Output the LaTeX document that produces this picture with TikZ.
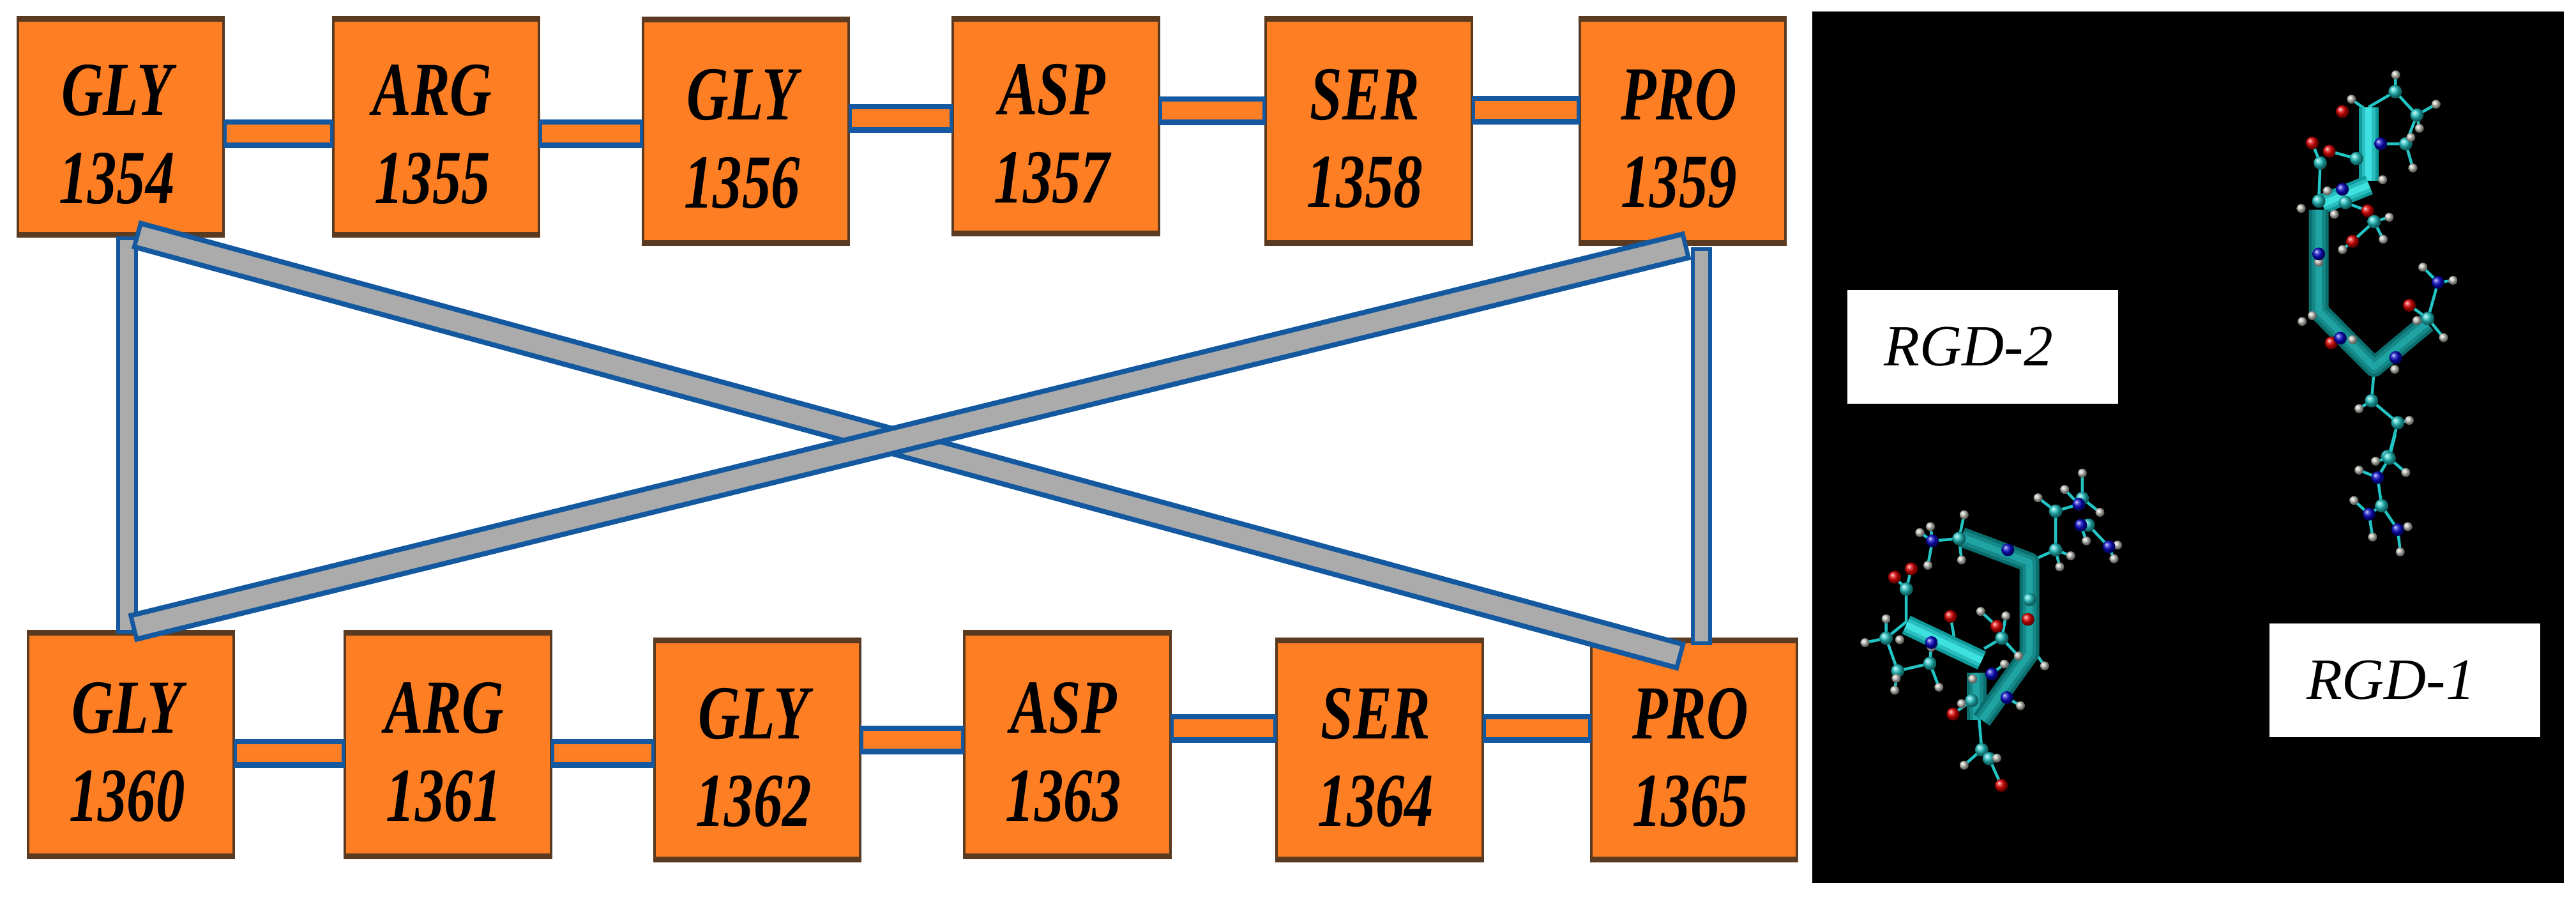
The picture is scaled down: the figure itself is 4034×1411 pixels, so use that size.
\documentclass[tikz,border=0pt]{standalone}
\usepackage{fontspec}
\setmainfont{Liberation Serif}
\newfontfamily\resfont[FakeStretch=0.76]{Liberation Serif}
\usepackage{xcolor}
\usetikzlibrary{calc}

\definecolor{resfill}{HTML}{FD7E23}
\definecolor{resedge}{HTML}{5A3A20}
\definecolor{barblue}{HTML}{14599F}
\definecolor{bargray}{HTML}{ABABAB}
\definecolor{carbon}{HTML}{22C4C4}
\definecolor{hydro}{HTML}{C8C8C0}
\definecolor{oxy}{HTML}{E00000}
\definecolor{nitro}{HTML}{0808C8}
\definecolor{tubelo}{HTML}{0B6E6E}
\definecolor{tubehi}{HTML}{1FA3A3}
\definecolor{tubebr}{HTML}{109C9C}
\definecolor{tubewh}{HTML}{3FE0E0}

\newcommand{\atoms}[3]{\foreach \p in {#3} \shade[ball color=#1] \p circle [radius=#2];}
\newcommand{\tube}[3]{\draw[line width=.31cm,line join=round,#1] #3;
  \draw[line width=.21cm,line join=round,#1!50!#2] #3;
  \draw[line width=.1cm,line join=round,#2] #3;}
\newcommand{\reslbl}[2]{\rule{0pt}{1.03cm}#1\kern0.12cm\\#2\kern0.12cm}

\begin{document}
\begin{tikzpicture}[x=0.01cm, y=-0.01cm,
  resbox/.style={rectangle, draw=resedge, line width=0.04cm, fill=resfill, inner sep=0pt,
    outer sep=0pt, minimum width=3.22cm, minimum height=3.5cm, align=center,
    font=\resfont\bfseries\itshape\fontsize{34}{39}\selectfont,
    path picture={
      \fill[resedge] (path picture bounding box.north west) rectangle ([yshift=-0.07cm]path picture bounding box.north east);
      \fill[resedge] (path picture bounding box.south west) rectangle ([yshift=0.07cm]path picture bounding box.south east);}},
  link/.style={line width=0.45cm, barblue, postaction={draw=resfill, line width=0.28cm, shorten >=0.05cm, shorten <=0.05cm}},
  cross/.style={line width=0.46cm, barblue, postaction={draw=bargray, line width=0.3cm, shorten >=0.07cm, shorten <=0.07cm}},
  post/.style={line width=0.33cm, barblue, postaction={draw=bargray, line width=0.21cm, shorten >=0.06cm, shorten <=0.06cm}},
  thinbond/.style={line width=0.045cm, carbon},
  rgdbox/.style={rectangle, fill=white, inner sep=0pt, minimum width=4.24cm, minimum height=1.77cm,
    font=\itshape\fontsize{26}{30}\selectfont}]
  \useasboundingbox (0,0) rectangle (4034,1411);

  \node[resbox, minimum height=3.43cm] (gly1354) at (189,198.5) {\reslbl{GLY}{1354}};
  \node[resbox, minimum height=3.43cm] (arg1355) at (683,198.5) {\reslbl{ARG}{1355}};
  \node[resbox, minimum height=3.55cm] (gly1356) at (1168,205.5) {\reslbl{GLY}{1356}};
  \node[resbox, minimum height=3.41cm] (asp1357) at (1653.5,197.5) {\reslbl{ASP}{1357}};
  \node[resbox, minimum height=3.56cm] (ser1358) at (2143.5,205) {\reslbl{SER}{1358}};
  \node[resbox, minimum height=3.56cm] (pro1359) at (2635,205) {\reslbl{PRO}{1359}};

  \node[resbox, minimum height=3.55cm] (gly1360) at (205,1165.5) {\reslbl{GLY}{1360}};
  \node[resbox, minimum height=3.55cm] (arg1361) at (701.5,1165.5) {\reslbl{ARG}{1361}};
  \node[resbox, minimum height=3.48cm] (gly1362) at (1186,1174) {\reslbl{GLY}{1362}};
  \node[resbox, minimum height=3.55cm] (asp1363) at (1671.5,1165.5) {\reslbl{ASP}{1363}};
  \node[resbox, minimum height=3.48cm] (ser1364) at (2160.5,1174) {\reslbl{SER}{1364}};
  \node[resbox, minimum height=3.48cm] (pro1365) at (2653,1174) {\reslbl{PRO}{1365}};

  \draw[link] (gly1354.east |- 0,209) -- (arg1355.west |- 0,209);
  \draw[link] (arg1355.east |- 0,209) -- (gly1356.west |- 0,209);
  \draw[link] (gly1356.east |- 0,185) -- (asp1357.west |- 0,185);
  \draw[link] (asp1357.east |- 0,173) -- (ser1358.west |- 0,173);
  \draw[link] (ser1358.east |- 0,172) -- (pro1359.west |- 0,172);

  \draw[link] (gly1360.east |- 0,1179) -- (arg1361.west |- 0,1179);
  \draw[link] (arg1361.east |- 0,1179) -- (gly1362.west |- 0,1179);
  \draw[link] (gly1362.east |- 0,1158) -- (asp1363.west |- 0,1158);
  \draw[link] (asp1363.east |- 0,1140) -- (ser1364.west |- 0,1140);
  \draw[link] (ser1364.east |- 0,1140) -- (pro1365.west |- 0,1140);

  \draw[post] (gly1354.south -| 199,0) -- ([yshift=-0.04cm]gly1360.north -| 199,0);
  \draw[post] ([yshift=-0.04cm]pro1359.south -| 2664,0) -- ([yshift=-0.1cm]pro1365.north -| 2664,0);
  \draw[cross] ($(gly1354.south)+(23,-3)$) -- ($(pro1365.north)+(-19,28)$);
  \draw[cross] ($(gly1360.north)+(1,-5)$) -- ($(pro1359.south)+(8,1)$);

  \fill[black] (2838,18) rectangle (4015,1382);
  \node[rgdbox] (rgd2) at (3105,543) {\raisebox{-0.13cm}{RGD-2}\kern0.44cm};
  \node[rgdbox] (rgd1) at (3766,1065) {\raisebox{-0.13cm}{RGD-1}\kern0.44cm};

  % upper molecule
  \begin{scope}[shift={(2800,0)}, x=0.00787cm, y=-0.00459cm]
    \draw[thinbond] (1154,365)--(1207,312)--(1250,392)--(1228,490)--(1178,490) (1207,312)--(1208,255)
      (1250,392)--(1288,355) (1250,392)--(1255,437) (1228,490)--(1238,468) (1228,490)--(1242,572)
      (1130,540)--(1076,515) (1058,555)--(1042,487) (1058,555)--(1055,685) (1154,380)--(1120,338)
      (1165,755)--(1122,822)--(1102,850) (1165,755)--(1195,740) (1165,755)--(1183,815) (1108,690)--(1152,718)--(1165,755)
      (1272,1085)--(1292,962)--(1262,910) (1292,962)--(1322,955) (1272,1085)--(1235,1040) (1272,1085)--(1303,1150)
      (1165,1260)--(1160,1365)--(1212,1440)--(1192,1568) (1160,1365)--(1135,1392) (1212,1440)--(1235,1432);
    \tube{tubebr}{tubewh}{(1154,365) -- (1154,615)}
    \tube{tubebr}{tubewh}{(1155,630) -- (1062,695)}
    \tube{tubelo}{tubehi}{(1055,715) -- (1055,1060) -- (1165,1250) -- (1270,1100)}
    \atoms{carbon}{0.105cm}{(1207,312),(1250,392),(1228,490),(1130,540),(1058,555),(1055,685),(1108,690),(1165,755),(1272,1085),(1160,1365),(1212,1440),(1192,1555)}
    \atoms{hydro}{0.07cm}{(1208,255),(1120,338),(1288,355),(1255,437),(1238,468),(1242,572),(1182,612),(1072,650),(1020,710),(1086,730),(1195,740),(1183,815),(1102,850),(1055,893),(1262,910),(1322,955),(1250,1092),(1303,1150),(1022,1095),(1042,1075),(1122,1157),(1206,1258),(1135,1392),(1235,1432)}
    \atoms{oxy}{0.1cm}{(1102,380),(1042,487),(1076,515),(1152,718),(1122,822),(1235,1040),(1080,1168)}
    \atoms{nitro}{0.1cm}{(1178,490),(1102,645),(1055,865),(1292,962),(1098,1152),(1208,1218)}
  \end{scope}

  \begin{scope}[shift={(2800,680)}, x=0.00787cm, y=-0.00466cm]
    \draw[thinbond] (1207,0)--(1195,80)--(1172,145)--(1180,240)--(1155,268)--(1125,222) (1180,240)--(1212,320)--(1217,395)
      (1155,268)--(1162,345) (1172,145)--(1135,120) (1195,80)--(1168,90) (1195,80)--(1228,128) (1212,320)--(1232,310);
    \atoms{carbon}{0.105cm}{(1195,80),(1180,240)}
    \atoms{hydro}{0.07cm}{(1168,90),(1228,128),(1135,120),(1125,222),(1162,345),(1232,310),(1217,395)}
    \atoms{nitro}{0.1cm}{(1172,145),(1155,268),(1212,320)}
  \end{scope}

  % lower molecule
  \begin{scope}[shift={(2800,680)}, x=0.00787cm, y=-0.00466cm]
    \draw[thinbond] (340,350)--(287,358)--(262,330) (287,358)--(283,310) (287,358)--(278,440) (340,350)--(350,270) (340,350)--(345,422)
      (490,420)--(532,388)--(532,258)--(497,213) (532,258)--(578,235)--(550,185) (585,215)--(585,130) (585,215)--(620,262)
      (532,388)--(562,408) (532,388)--(540,445) (597,305)--(638,378)--(655,372) (638,378)--(648,418) (582,305)--(593,358)
      (235,630)--(235,520)--(245,452) (235,520)--(212,480) (235,630)--(195,685)--(153,700) (195,685)--(195,620) (195,685)--(218,795)--(282,770)--(285,700)
      (218,795)--(212,860) (282,770)--(300,850) (323,612)--(330,680) (415,645)--(383,595) (425,685)--(433,610) (425,685)--(458,745) (425,685)--(390,720)
      (405,805)--(430,772) (435,885)--(462,912) (480,555)--(477,622) (365,895)--(328,940) (365,895)--(345,905)
      (380,960)--(385,1060)--(400,1090)--(424,1180) (385,1060)--(350,1112) (400,1090)--(415,1088) (490,730)--(510,778);
    \tube{tubelo}{tubehi}{(375,800) -- (375,960)}
    \tube{tubelo}{tubehi}{(345,345) -- (480,430) -- (480,735) -- (385,960)}
    \tube{tubebr}{tubewh}{(235,640) -- (385,760)}
    \atoms{carbon}{0.105cm}{(340,350),(532,258),(585,215),(597,305),(532,388),(480,555),(235,520),(195,685),(218,795),(282,770),(425,685),(365,895),(385,1060),(400,1090)}
    \atoms{hydro}{0.07cm}{(350,270),(283,310),(262,330),(345,422),(278,440),(497,213),(550,185),(585,130),(620,262),(593,358),(562,408),(540,445),(655,372),(648,418),(510,778),(195,620),(153,700),(222,690),(215,820),(212,860),(300,850),(383,595),(433,610),(458,745),(430,772),(367,822),(462,912),(345,905),(350,1112),(415,1088),(285,715)}
    \atoms{oxy}{0.1cm}{(245,452),(212,480),(323,612),(415,645),(477,622),(328,940),(424,1180)}
    \atoms{nitro}{0.1cm}{(287,358),(437,388),(578,235),(582,305),(638,378),(285,700),(405,805),(435,885)}
  \end{scope}
\end{tikzpicture}
\end{document}
